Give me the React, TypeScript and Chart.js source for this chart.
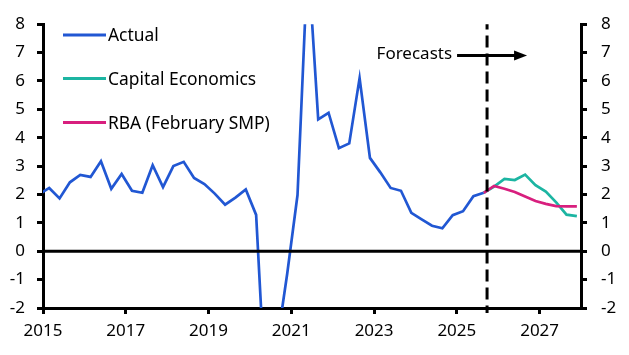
import React, { useEffect, useRef } from 'react';
import { Chart, registerables } from 'chart.js';

Chart.register(...registerables);

// ---- Data ----
const actualStart = '2014Q4';
const actualValues = [
  2.0,
  2.23, 1.86, 2.43, 2.69,
  2.62, 3.17, 2.2, 2.72,
  2.13, 2.06, 3.03, 2.26,
  3.0, 3.15, 2.58, 2.37,
  2.03, 1.64, 1.89, 2.18,
  1.28, -5.6, -3.3, -0.8,
  1.98, 10.4, 4.65, 4.88,
  3.63, 3.8, 6.1, 3.29,
  2.78, 2.23, 2.13, 1.35,
  1.12, 0.9, 0.81, 1.27,
  1.41, 1.94, 2.06,
];
const forecastStart = '2025Q3';
const capitalEconomicsValues = [2.06, 2.28, 2.55, 2.51, 2.7, 2.33, 2.1, 1.72, 1.29, 1.24];
const rbaValues = [2.06, 2.3, 2.2, 2.09, 1.93, 1.77, 1.67, 1.59, 1.58, 1.58];
const xTickYears = [2015, 2017, 2019, 2021, 2023, 2025, 2027];
const xMin = 2015;
const xMax = 2028;
const yMin = -2;
const yMax = 8;
const forecastDate = 2025.73;
const forecastLabel = 'Forecasts';
const seriesNames = ['Actual', 'Capital Economics', 'RBA (February SMP)'];

const BLUE = '#2157d3';
const TEAL = '#1cb5a2';
const PINK = '#d81f7e';
const FONT = '"Noto Sans", sans-serif';

function quarterIndex(label: string) {
  const [y, q] = label.split('Q').map(Number);
  return y * 4 + (q - 1);
}
function seriesPoints(start: string, values: number[]) {
  const s = quarterIndex(start);
  return values.map((v, i) => ({ x: (s + i) / 4 + 0.15, y: v }));
}

const overlayPlugin = {
  id: 'overlay',
  afterDatasetsDraw(chart: any) {
    const { ctx, chartArea, scales } = chart;
    const y0 = scales.y.getPixelForValue(0);
    ctx.save();
    ctx.strokeStyle = '#000';
    ctx.lineWidth = 3;
    ctx.beginPath();
    ctx.moveTo(chartArea.left, y0);
    ctx.lineTo(chartArea.right, y0);
    ctx.stroke();
    ctx.restore();
  },
  afterDraw(chart: any) {
    const { ctx, chartArea, scales } = chart;
    const fx = scales.x.getPixelForValue(forecastDate);
    ctx.save();
    // dashed forecast line
    ctx.strokeStyle = '#000';
    ctx.lineWidth = 3;
    ctx.setLineDash([12, 6]);
    ctx.lineDashOffset = 6.6;
    ctx.beginPath();
    ctx.moveTo(fx, chartArea.top);
    ctx.lineTo(fx, chartArea.bottom + 5);
    ctx.stroke();
    ctx.setLineDash([]);
    // arrow
    const ay = scales.y.getPixelForValue(6.9);
    ctx.beginPath();
    ctx.moveTo(fx - 30, ay);
    ctx.lineTo(fx + 30, ay);
    ctx.stroke();
    ctx.fillStyle = '#000';
    ctx.beginPath();
    ctx.moveTo(fx + 40, ay);
    ctx.lineTo(fx + 27, ay - 5);
    ctx.lineTo(fx + 27, ay + 5);
    ctx.closePath();
    ctx.fill();
    ctx.font = `17px ${FONT}`;
    ctx.textAlign = 'right';
    ctx.textBaseline = 'alphabetic';
    ctx.fillText(forecastLabel, fx - 35, ay + 3.5);
    // legend
    const colors = [BLUE, TEAL, PINK];
    const rows = [35, 78.5, 122.5];
    ctx.textAlign = 'left';
    ctx.font = `17.4px ${FONT}`;
    seriesNames.forEach((name, i) => {
      ctx.strokeStyle = colors[i];
      ctx.lineWidth = 3;
      ctx.beginPath();
      ctx.moveTo(63, rows[i]);
      ctx.lineTo(106, rows[i]);
      ctx.stroke();
      ctx.fillStyle = '#000';
      ctx.fillText(name, 108, rows[i] + 6);
    });
    ctx.restore();
  },
};

export default function App() {
  const ref = useRef<HTMLCanvasElement>(null);
  useEffect(() => {
    document.body.style.margin = '0';
    Chart.defaults.font.family = FONT;
    Chart.defaults.font.size = 17;
    Chart.defaults.color = '#000';
    const axisGrid = {
      drawOnChartArea: false,
      drawTicks: true,
      tickLength: 6,
      lineWidth: 3,
      color: '#000',
    };
    const chart = new Chart(ref.current!, {
      type: 'line',
      data: {
        datasets: [
          {
            label: seriesNames[2],
            data: seriesPoints(forecastStart, rbaValues),
            borderColor: PINK,
            borderWidth: 2.7,
            pointRadius: 0,
            order: 0,
          },
          {
            label: seriesNames[1],
            data: seriesPoints(forecastStart, capitalEconomicsValues),
            borderColor: TEAL,
            borderWidth: 2.7,
            pointRadius: 0,
            order: 1,
          },
          {
            label: seriesNames[0],
            data: seriesPoints(actualStart, actualValues),
            borderColor: BLUE,
            borderWidth: 2.7,
            pointRadius: 0,
            order: 2,
          },
        ],
      },
      options: {
        animation: false,
        responsive: false,
        layout: { padding: { top: 15, left: 0, right: 0, bottom: 0 } },
        plugins: { legend: { display: false }, tooltip: { enabled: false } },
        scales: {
          x: {
            type: 'linear',
            min: xMin,
            max: xMax,
            afterBuildTicks: (s: any) => {
              s.ticks = xTickYears.map((v) => ({ value: v }));
            },
            afterFit: (s: any) => {
              s.height = 47;
            },
            ticks: {
              autoSkip: false,
              maxRotation: 0,
              minRotation: 0,
              padding: 7,
              callback: (v: any) => String(v),
            },
            grid: axisGrid,
            border: { display: true, color: '#000', width: 3 },
          },
          y: {
            position: 'left',
            min: yMin,
            max: yMax,
            afterFit: (s: any) => {
              s.width = 43;
            },
            ticks: { stepSize: 1, padding: 12 },
            grid: axisGrid,
            border: { display: true, color: '#000', width: 3 },
          },
          y2: {
            position: 'right',
            min: yMin,
            max: yMax,
            afterFit: (s: any) => {
              s.width = 48;
            },
            ticks: { stepSize: 1, padding: 14 },
            grid: axisGrid,
            border: { display: true, color: '#000', width: 3 },
          },
        },
      } as any,
      plugins: [overlayPlugin],
    });
    return () => chart.destroy();
  }, []);
  return <canvas ref={ref} width={629} height={355} style={{ display: 'block' }} />;
}
